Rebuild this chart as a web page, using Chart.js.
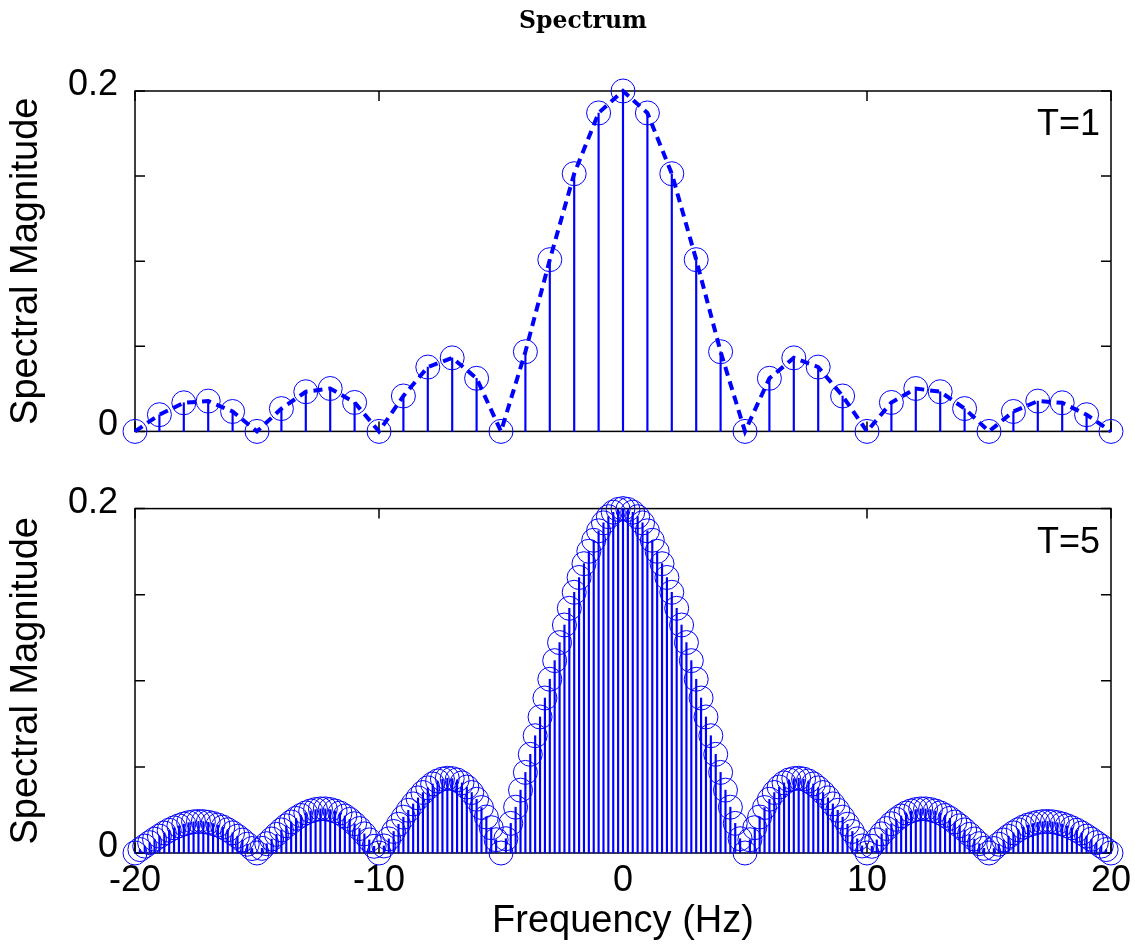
<!DOCTYPE html>
<html>
<head>
<meta charset="utf-8">
<title>Spectrum</title>
<script src="https://cdn.jsdelivr.net/npm/chart.js@4.4.1/dist/chart.umd.min.js"></script>
<style>
  html, body { margin: 0; padding: 0; background: #fff; overflow: hidden; }
  #page { position: relative; width: 1135px; height: 944px; overflow: hidden; background: #fff; }
  #top-graph { position: absolute; left: 0; top: 0; }
  #bottom-graph { position: absolute; left: 0; top: 470px; }
</style>
</head>
<body>
<div id="page">
  <canvas id="top-graph" width="1166" height="470"></canvas>
  <canvas id="bottom-graph" width="1166" height="474"></canvas>
</div>
<script>
/**
 * Data
 */
// T=1 : one line every 1 Hz
const freqT1 = [-20,-19,-18,-17,-16,-15,-14,-13,-12,-11,-10,-9,-8,-7,-6,-5,-4,-3,-2,-1,
    0,1,2,3,4,5,6,7,8,9,10,11,12,13,14,15,16,17,18,19,20];
const magT1 = [0,0.0098,0.0168,0.0178,0.0117,0,0.0134,0.0233,0.0252,0.0170,
    0,0.0208,0.0378,0.0432,0.0312,0,0.0468,0.1009,0.1514,0.1871,
    0.2,
    0.1871,0.1514,0.1009,0.0468,0,0.0312,0.0432,0.0378,0.0208,0,
    0.0170,0.0252,0.0233,0.0134,0,0.0117,0.0178,0.0168,0.0098,0];

// T=5 : one line every 0.2 Hz
const freqT5 = [
    -20,-19.8,-19.6,-19.4,-19.2,-19,-18.8,-18.6,-18.4,-18.2,
    -18,-17.8,-17.6,-17.4,-17.2,-17,-16.8,-16.6,-16.4,-16.2,
    -16,-15.8,-15.6,-15.4,-15.2,-15,-14.8,-14.6,-14.4,-14.2,
    -14,-13.8,-13.6,-13.4,-13.2,-13,-12.8,-12.6,-12.4,-12.2,
    -12,-11.8,-11.6,-11.4,-11.2,-11,-10.8,-10.6,-10.4,-10.2,
    -10,-9.8,-9.6,-9.4,-9.2,-9,-8.8,-8.6,-8.4,-8.2,
    -8,-7.8,-7.6,-7.4,-7.2,-7,-6.8,-6.6,-6.4,-6.2,
    -6,-5.8,-5.6,-5.4,-5.2,-5,-4.8,-4.6,-4.4,-4.2,
    -4,-3.8,-3.6,-3.4,-3.2,-3,-2.8,-2.6,-2.4,-2.2,
    -2,-1.8,-1.6,-1.4,-1.2,-1,-0.8,-0.6,-0.4,-0.2,
    0,
    0.2,0.4,0.6,0.8,1,1.2,1.4,1.6,1.8,2,
    2.2,2.4,2.6,2.8,3,3.2,3.4,3.6,3.8,4,
    4.2,4.4,4.6,4.8,5,5.2,5.4,5.6,5.8,6,
    6.2,6.4,6.6,6.8,7,7.2,7.4,7.6,7.8,8,
    8.2,8.4,8.6,8.8,9,9.2,9.4,9.6,9.8,10,
    10.2,10.4,10.6,10.8,11,11.2,11.4,11.6,11.8,12,
    12.2,12.4,12.6,12.8,13,13.2,13.4,13.6,13.8,14,
    14.2,14.4,14.6,14.8,15,15.2,15.4,15.6,15.8,16,
    16.2,16.4,16.6,16.8,17,17.2,17.4,17.6,17.8,18,
    18.2,18.4,18.6,18.8,19,19.2,19.4,19.6,19.8,20];
const magT5 = [
    0,0.0020,0.0040,0.0060,0.0080,0.0098,0.0116,0.0132,0.0146,0.0158,
    0.0168,0.0176,0.0181,0.0183,0.0182,0.0178,0.0171,0.0162,0.0150,0.0135,
    0.0117,0.0097,0.0075,0.0051,0.0026,0,0.0027,0.0054,0.0081,0.0108,
    0.0134,0.0158,0.0180,0.0201,0.0218,0.0233,0.0244,0.0252,0.0256,0.0256,
    0.0252,0.0244,0.0232,0.0215,0.0195,0.0170,0.0142,0.0111,0.0076,0.0039,
    0,0.0041,0.0082,0.0125,0.0167,0.0208,0.0248,0.0285,0.0320,0.0351,
    0.0378,0.0401,0.0418,0.0429,0.0434,0.0432,0.0424,0.0407,0.0383,0.0351,
    0.0312,0.0264,0.0209,0.0147,0.0077,0,0.0083,0.0172,0.0266,0.0365,
    0.0468,0.0573,0.0681,0.0790,0.0900,0.1009,0.1117,0.1222,0.1324,0.1421,
    0.1514,0.1600,0.1680,0.1752,0.1816,0.1871,0.1917,0.1953,0.1979,0.1995,
    0.2,
    0.1995,0.1979,0.1953,0.1917,0.1871,0.1816,0.1752,0.1680,0.1600,0.1514,
    0.1421,0.1324,0.1222,0.1117,0.1009,0.0900,0.0790,0.0681,0.0573,0.0468,
    0.0365,0.0266,0.0172,0.0083,0,0.0077,0.0147,0.0209,0.0264,0.0312,
    0.0351,0.0383,0.0407,0.0424,0.0432,0.0434,0.0429,0.0418,0.0401,0.0378,
    0.0351,0.0320,0.0285,0.0248,0.0208,0.0167,0.0125,0.0082,0.0041,0,
    0.0039,0.0076,0.0111,0.0142,0.0170,0.0195,0.0215,0.0232,0.0244,0.0252,
    0.0256,0.0256,0.0252,0.0244,0.0233,0.0218,0.0201,0.0180,0.0158,0.0134,
    0.0108,0.0081,0.0054,0.0027,0,0.0026,0.0051,0.0075,0.0097,0.0117,
    0.0135,0.0150,0.0162,0.0171,0.0178,0.0182,0.0183,0.0181,0.0176,0.0168,
    0.0158,0.0146,0.0132,0.0116,0.0098,0.0080,0.0060,0.0040,0.0020,0];

const xTicks = [-20, -10, 0, 10, 20];
const yTickLabels = ['0', '0.2'];

/**
 * Shared styles
 */
const blue = '#0000ff';
const tickFont = { family: '"Liberation Sans", Arial, sans-serif', size: 36 };
const axisTitleFont = { family: '"Liberation Sans", Arial, sans-serif', size: 38 };

const toPoints = (xs, ys) => xs.map((x, i) => ({ x: x, y: ys[i] }));

// MATLAB style box: frame, inward ticks on all four sides, and the T= label
const matlabBox = {
    id: 'matlabBox',
    beforeDatasetsDraw(chart, args, opts) {
        const { ctx, chartArea: a, scales: { x, y } } = chart;
        ctx.save();
        ctx.strokeStyle = '#000';
        ctx.lineWidth = 1.5;
        ctx.strokeRect(a.left, a.top, a.right - a.left, a.bottom - a.top);
        ctx.beginPath();
        x.ticks.forEach(t => {
            const px = x.getPixelForValue(t.value);
            ctx.moveTo(px, a.bottom); ctx.lineTo(px, a.bottom - 10);
            ctx.moveTo(px, a.top); ctx.lineTo(px, a.top + 10);
        });
        y.ticks.forEach(t => {
            const py = y.getPixelForValue(t.value);
            ctx.moveTo(a.left, py); ctx.lineTo(a.left + 10, py);
            ctx.moveTo(a.right, py); ctx.lineTo(a.right - 10, py);
        });
        ctx.stroke();
        ctx.fillStyle = '#000';
        ctx.font = '36px "Liberation Sans", Arial, sans-serif';
        ctx.textAlign = 'right';
        ctx.textBaseline = 'alphabetic';
        ctx.fillText(opts.label, a.right - 11, a.top + 44);
        ctx.restore();
    }
};

const buildConfig = (freq, mag, opts) => {
    const datasets = [
        {
            type: 'bar',
            label: 'stems',
            data: toPoints(freq, mag),
            backgroundColor: blue,
            borderWidth: 0,
            barThickness: 1.5,
            yAxisID: 'y',
            clip: false,
            order: 2
        },
        {
            type: 'line',
            label: 'markers',
            data: toPoints(freq, mag),
            showLine: false,
            pointStyle: 'circle',
            pointRadius: 12,
            pointBorderWidth: 1,
            pointBorderColor: blue,
            pointBackgroundColor: 'rgba(0,0,0,0)',
            yAxisID: 'y',
            clip: false,
            order: 1
        }
    ];
    if (opts.dashed) {
        datasets.push({
            type: 'line',
            label: 'envelope',
            data: toPoints(freq, mag),
            borderColor: blue,
            borderWidth: 4,
            borderDash: [9, 6],
            pointRadius: 0,
            tension: 0,
            fill: false,
            yAxisID: 'y',
            clip: false,
            order: 0
        });
    }
    return {
        type: 'bar',
        data: { datasets: datasets },
        plugins: [matlabBox],
        options: {
            responsive: false,
            animation: false,
            events: [],
            layout: { padding: opts.padding },
            plugins: {
                legend: { display: false },
                tooltip: { enabled: false },
                title: opts.title,
                matlabBox: { label: opts.label }
            },
            scales: {
                x: {
                    type: 'linear',
                    min: xTicks[0],
                    max: xTicks[xTicks.length - 1],
                    offset: false,
                    grid: { display: false, drawTicks: false, offset: false },
                    border: { display: false },
                    ticks: {
                        display: opts.showX,
                        stepSize: 10,
                        autoSkip: false,
                        maxRotation: 0,
                        padding: 6,
                        color: '#000',
                        font: tickFont
                    },
                    title: {
                        display: opts.showX,
                        text: 'Frequency (Hz)',
                        color: '#000',
                        font: axisTitleFont,
                        padding: { top: 0, bottom: 0 }
                    },
                    afterFit: (scale) => { scale.height = opts.xHeight; }
                },
                y: {
                    type: 'linear',
                    position: 'left',
                    min: 0,
                    max: 0.2,
                    grid: { display: false, drawTicks: false },
                    border: { display: false },
                    ticks: {
                        stepSize: 0.05,
                        autoSkip: false,
                        padding: 17,
                        labelOffset: -6,
                        color: '#000',
                        font: tickFont,
                        callback: (value) => {
                            if (Math.abs(value) < 1e-9) return yTickLabels[0];
                            if (Math.abs(value - 0.2) < 1e-9) return yTickLabels[1];
                            return '';
                        }
                    },
                    title: {
                        display: true,
                        text: 'Spectral Magnitude',
                        color: '#000',
                        font: axisTitleFont,
                        padding: { top: 4, bottom: 0 }
                    },
                    afterFit: (scale) => { scale.width = 135; }
                },
                yRight: {
                    type: 'linear',
                    position: 'right',
                    display: true,
                    grid: { display: false, drawTicks: false },
                    border: { display: false },
                    ticks: { display: false },
                    afterFit: (scale) => { scale.width = 55; }
                }
            }
        }
    };
};

//top panel: T=1, with the dashed envelope
const topChart = new Chart(
    document.getElementById('top-graph'),
    buildConfig(freqT1, magT1, {
        dashed: true,
        label: 'T=1',
        showX: false,
        xHeight: 0,
        padding: { top: 0, bottom: 31, left: 0, right: 0 },
        title: {
            display: true,
            text: 'Spectrum',
            color: '#000',
            font: { family: '"DejaVu Serif", serif', size: 23.5, weight: 'bold' },
            padding: { top: 7.9, bottom: 54.9 }
        }
    })
);

//bottom panel: T=5
const bottomChart = new Chart(
    document.getElementById('bottom-graph'),
    buildConfig(freqT5, magT5, {
        dashed: false,
        label: 'T=5',
        showX: true,
        xHeight: 91,
        padding: { top: 33, bottom: 0, left: 0, right: 0 },
        title: { display: false }
    })
);
</script>
</body>
</html>
